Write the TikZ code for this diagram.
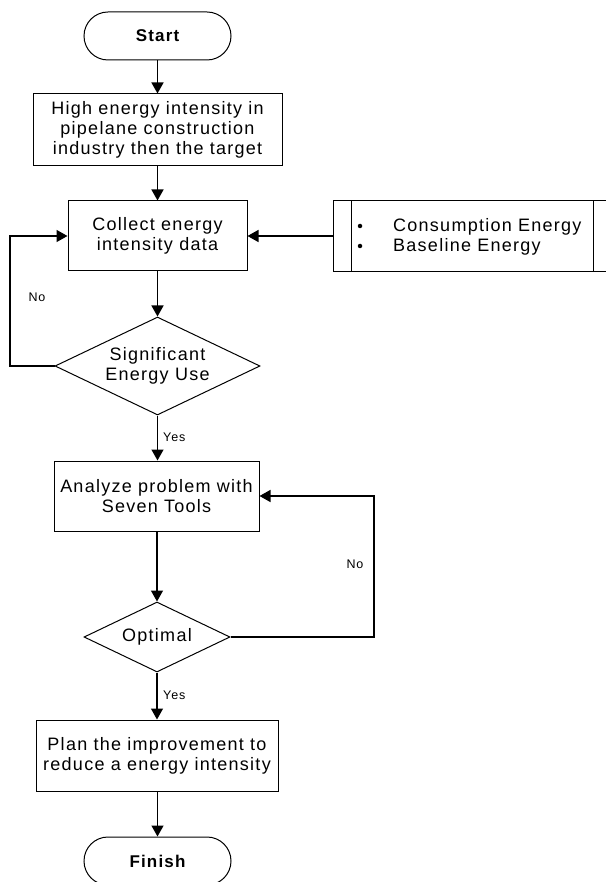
\documentclass[tikz,border=0pt]{standalone}
\usepackage{fontspec}
\setmainfont[LetterSpace=7]{Liberation Sans}
\usetikzlibrary{shapes.geometric,arrows.meta}
\begin{document}
\begin{tikzpicture}[x=1pt,y=-1pt,
  base/.style={draw=black,line width=1pt,inner sep=0pt,align=center,font=\fontsize{18}{20}\selectfont},
  term/.style={base,rectangle,rounded corners=24pt,minimum width=147pt,minimum height=48pt,font=\fontsize{17}{20}\selectfont\bfseries},
  proc/.style={base,rectangle,minimum height=71pt},
  dec/.style={base,diamond,aspect=2},
  arr/.style={line width=1.4pt,-{Triangle[length=11pt,width=12pt]}},
  lbl/.style={font=\fontsize{12.5}{14}\selectfont,inner sep=0pt},
  bullet/.style={circle,fill=black,inner sep=0pt,minimum size=4.5pt}]
\useasboundingbox (0,0) rectangle (605,882);
\node[term] (start) at (157.5,36) {Start};
\node[proc,minimum width=249pt,minimum height=72pt] (b1) at (157.5,130) {High energy intensity in\\pipelane construction\\industry then the target};
\node[proc,minimum width=179pt,minimum height=70pt] (b2) at (157.5,236) {Collect energy\\intensity data};
\node[dec,minimum width=205pt,minimum height=98pt] (d1) at (157.5,366) {Significant\\Energy Use};
\node[proc,minimum width=205pt,minimum height=70pt] (b3) at (156.5,496) {Analyze problem with\\Seven Tools};
\node[dec,minimum width=146pt,minimum height=70pt] (d2) at (157,637) {Optimal};
\node[proc,minimum width=242pt] (b4) at (157,755.5) {Plan the improvement to\\reduce a energy intensity};
\node[term] (finish) at (157.5,861) {Finish};
% side info box
\node[draw=black,line width=1pt,rectangle,minimum width=290pt,minimum height=71pt,inner sep=0pt] (info) at (478,236) {};
\draw[line width=1pt] (351,200.5) -- (351,271.5);
\draw[line width=1pt] (593,200.5) -- (593,271.5);
\node[bullet] (bu1) at (360,226) {};
\node[bullet] (bu2) at (360,246) {};
\node[lbl,anchor=west,font=\fontsize{18}{20}\selectfont] (t1) at (393,227) {Consumption Energy};
\node[lbl,anchor=west,font=\fontsize{18}{20}\selectfont] (t2) at (393,247) {Baseline Energy};
% connectors
\draw[arr] (start) -- (b1);
\draw[arr] (b1) -- (b2);
\draw[arr] (b2) -- (d1);
\draw[arr] (info.west) -- (b2.east);
\coordinate (l1) at (10,236);
\draw[arr] (d1.west) -| (l1) -- (b2.west);
\node[lbl] (no1) at (37,297) {No};
\draw[arr] (d1.south) -- (b3.north -| d1.south);
\node[lbl,anchor=west] (yes1) at (163,437) {Yes};
\draw[arr] (b3.south -| d2.north) -- (d2.north);
\coordinate (r2) at (374,496);
\draw[arr] (d2.east) -| (r2) -- (b3.east);
\node[lbl] (no2) at (355,564) {No};
\draw[arr] (d2.south) -- (b4.north -| d2.south);
\node[lbl,anchor=west] (yes2) at (163,695) {Yes};
\draw[arr] (b4.south -| finish) -- (finish);
\end{tikzpicture}
\end{document}
